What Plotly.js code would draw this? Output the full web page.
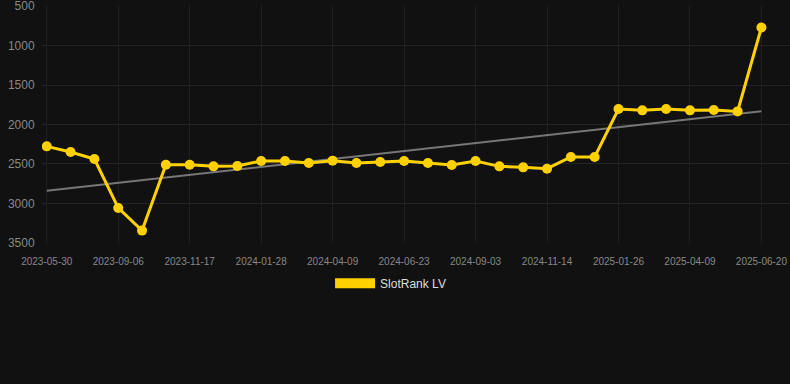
<!DOCTYPE html>
<html>
<head>
<meta charset="utf-8">
<script src="https://cdn.plot.ly/plotly-3.0.1.min.js"></script>
<style>
html,body{margin:0;padding:0;background:#111111;}
#chart{width:790px;height:384px;}
</style>
</head>
<body>
<div id="chart"></div>
<script>
// Rank values, one per observation (lower is better, axis reversed)
const rankValues = [2277, 2348, 2437, 3057, 3344, 2509, 2509, 2530, 2525, 2462,
  2462, 2487, 2458, 2487, 2475, 2462, 2487, 2513, 2462, 2530,
  2543, 2560, 2411, 2411, 1804, 1821, 1804, 1821, 1817, 1834, 771];
// Tick labels shown every third observation
const tickLabels = ['2023-05-30', '2023-09-06', '2023-11-17', '2024-01-28', '2024-04-09',
  '2024-06-23', '2024-09-03', '2024-11-14', '2025-01-26', '2025-04-09', '2025-06-20'];
const tickStep = 3;
const yTicks = [500, 1000, 1500, 2000, 2500, 3000, 3500];
const seriesName = 'SlotRank LV';

const xIdx = rankValues.map((_, i) => i);
const tickVals = tickLabels.map((_, i) => i * tickStep);

// least squares trend line from the data
const n = rankValues.length;
const mx = xIdx.reduce((a, b) => a + b, 0) / n;
const my = rankValues.reduce((a, b) => a + b, 0) / n;
let sxy = 0, sxx = 0;
for (let i = 0; i < n; i++) { sxy += (xIdx[i] - mx) * (rankValues[i] - my); sxx += (xIdx[i] - mx) ** 2; }
const slope = sxy / sxx;
const trendX = [xIdx[0], xIdx[n - 1]];
const trendY = trendX.map(x => my + slope * (x - mx));

const gold = '#FFD100';

const traces = [
  {x: trendX, y: trendY, mode: 'lines', line: {color: '#777777', width: 2}, showlegend: false, hoverinfo: 'skip'},
  {x: xIdx, y: rankValues, mode: 'lines+markers', name: seriesName,
   line: {color: gold, width: 3}, marker: {color: gold, size: 10}, showlegend: false},
  {x: [null], y: [null], mode: 'lines', name: seriesName, line: {color: gold, width: 11}, showlegend: true}
];

const layout = {
  width: 790, height: 384,
  paper_bgcolor: '#111111', plot_bgcolor: '#111111',
  margin: {l: 42, r: 0, t: 6, b: 141},
  font: {family: 'Arial, Liberation Sans, sans-serif', color: '#888888'},
  xaxis: {
    range: [-0.2, 31.2], tickmode: 'array', tickvals: tickVals, ticktext: tickLabels,
    showgrid: true, gridcolor: '#1f1f1f', zeroline: false, showline: false,
    tickfont: {size: 10, color: '#888888'}, ticks: 'outside', ticklen: 9, tickcolor: 'rgba(0,0,0,0)', fixedrange: true
  },
  yaxis: {
    range: [3501, 499], tickmode: 'array', tickvals: yTicks, ticklabeloverflow: 'allow',
    showgrid: true, gridcolor: '#232323', zeroline: false, showline: false,
    tickfont: {size: 12, color: '#888888'}, ticks: 'outside', ticklen: 4, tickcolor: 'rgba(0,0,0,0)', fixedrange: true
  },
  showlegend: true,
  legend: {orientation: 'h', x: 0.466, xanchor: 'center', y: -0.17, yanchor: 'middle',
    font: {size: 12, color: '#dddddd'}, itemwidth: 40, bgcolor: 'rgba(0,0,0,0)'}
};

Plotly.newPlot('chart', traces, layout, {displayModeBar: false, staticPlot: true});
</script>
</body>
</html>
